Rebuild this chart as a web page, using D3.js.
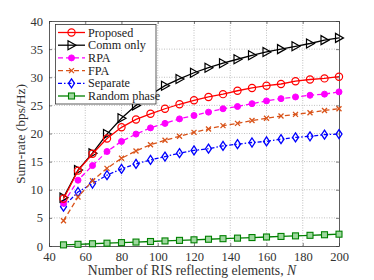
<!DOCTYPE html>
<html>
<head>
<script type="text/javascript" src="https://d3js.org/d3.v7.min.js"></script>
<style>
  body { margin: 0; background: #fff; }
  text { font-family: "Liberation Serif", "DejaVu Serif", serif; }
</style>
</head>
<body>
<svg width="374" height="280"></svg>
<script type="text/javascript">
// number of RIS elements
var N = [48, 56, 64, 72, 80, 88, 96, 104, 112, 120, 128, 136, 144, 152, 160, 168, 176, 184, 192, 200];

var proposed = [8.4, 13.4, 16.4, 19.1, 21.1, 22.5, 23.5, 24.4, 25.2, 25.9, 26.5, 27.0, 27.6, 28.1, 28.5, 28.8, 29.3, 29.6, 29.8, 30.1];
var commOnly = [8.6, 13.5, 16.5, 19.9, 22.7, 25.0, 26.9, 28.5, 29.7, 30.8, 31.7, 32.5, 33.2, 33.9, 34.5, 35.0, 35.5, 36.0, 36.6, 37.0];
var rpa      = [7.6, 11.7, 14.3, 16.8, 18.6, 19.9, 21.0, 21.8, 22.6, 23.2, 23.8, 24.4, 24.8, 25.3, 25.8, 26.2, 26.5, 26.8, 27.0, 27.4];
var fpa      = [4.5, 8.7, 11.6, 13.8, 15.6, 16.9, 18.0, 18.8, 19.5, 20.2, 20.8, 21.4, 21.8, 22.3, 22.7, 23.1, 23.4, 23.7, 24.1, 24.4];
var separate = [7.0, 9.6, 11.1, 12.6, 13.7, 14.6, 15.3, 15.9, 16.5, 17.0, 17.3, 17.8, 18.1, 18.4, 18.6, 19.0, 19.3, 19.5, 19.8, 19.9];
var randomPh = [0.2, 0.3, 0.4, 0.5, 0.6, 0.7, 0.8, 0.9, 1.0, 1.1, 1.2, 1.3, 1.4, 1.5, 1.6, 1.7, 1.8, 1.9, 2.0, 2.1];

var xTicks = [40, 60, 80, 100, 120, 140, 160, 180, 200];
var yTicks = [0, 5, 10, 15, 20, 25, 30, 35, 40];

var series = [
  {name: "Proposed", vals: proposed, color: "#ff0000", dash: null, mark: "circle"},
  {name: "Comm only", vals: commOnly, color: "#000000", dash: null, mark: "triangle"},
  {name: "RPA", vals: rpa, color: "#ff00ff", dash: "5,3", mark: "dot"},
  {name: "FPA", vals: fpa, color: "#d95319", dash: "5,3", mark: "cross"},
  {name: "Separate", vals: separate, color: "#0000ff", dash: "4,2,1.5,2", mark: "diamond"},
  {name: "Random phase", vals: randomPh, color: "#008000", dash: null, mark: "square"}
];

var svg = d3.select("svg");
var x = d3.scaleLinear().domain([40, 200]).range([49, 339]);
var y = d3.scaleLinear().domain([0, 40]).range([246, 21]);

// grid
var grid = svg.append("g");
grid.selectAll("line.gx").data(xTicks.slice(1, -1)).enter().append("line")
  .attr("x1", function(d) { return x(d); }).attr("x2", function(d) { return x(d); })
  .attr("y1", y(0)).attr("y2", y(40))
  .style("stroke", "#b0b0b0").style("stroke-width", 0.8).style("stroke-dasharray", "1,1.5");
grid.selectAll("line.gy").data(yTicks.slice(1, -1)).enter().append("line")
  .attr("y1", function(d) { return y(d); }).attr("y2", function(d) { return y(d); })
  .attr("x1", x(40)).attr("x2", x(200))
  .style("stroke", "#b0b0b0").style("stroke-width", 0.8).style("stroke-dasharray", "1,1.5");

// axes
var xAxis = svg.append("g").attr("transform", "translate(0," + y(0) + ")")
  .call(d3.axisBottom(x).tickValues(xTicks).tickSizeInner(-3).tickSizeOuter(0).tickPadding(6));
var yAxis = svg.append("g").attr("transform", "translate(" + x(40) + ",0)")
  .call(d3.axisLeft(y).tickValues(yTicks).tickSizeInner(-3).tickSizeOuter(0).tickPadding(6));
var xTop = svg.append("g").attr("transform", "translate(0," + y(40) + ")")
  .call(d3.axisTop(x).tickValues(xTicks).tickSizeInner(-3).tickSizeOuter(0).tickFormat(""));
var yRight = svg.append("g").attr("transform", "translate(" + x(200) + ",0)")
  .call(d3.axisRight(y).tickValues(yTicks).tickSizeInner(-3).tickSizeOuter(0).tickFormat(""));
[xAxis, yAxis, xTop, yRight].forEach(function(a) {
  a.selectAll("path").style("stroke", "#333").style("stroke-width", 0.8);
  a.selectAll("line").style("stroke", "#333").style("stroke-width", 0.6);
  a.selectAll("text").style("font-family", "Liberation Serif, serif").style("font-size", "12.5px").style("fill", "#333");
});

svg.append("text").attr("x", 192).attr("y", 275).attr("text-anchor", "middle")
  .style("font-size", "13.7px").style("fill", "#333")
  .html("Number of RIS reflecting elements, <tspan font-style='italic'>N</tspan>");
svg.append("text").attr("transform", "translate(25,134) rotate(-90)").attr("text-anchor", "middle")
  .style("font-size", "13.5px").style("fill", "#333").text("Sum-rate (bps/Hz)");

function drawMark(g, type, color, cx, cy) {
  if (type == "circle") {
    g.append("circle").attr("cx", cx).attr("cy", cy).attr("r", 3.6)
      .style("fill", "none").style("stroke", color).style("stroke-width", 1.2);
  } else if (type == "triangle") {
    g.append("path").attr("d", "M" + (cx - 3.5) + "," + (cy - 4.5) + "L" + (cx + 4.5) + "," + cy + "L" + (cx - 3.5) + "," + (cy + 4.5) + "Z")
      .style("fill", "none").style("stroke", color).style("stroke-width", 1.2);
  } else if (type == "dot") {
    g.append("circle").attr("cx", cx).attr("cy", cy).attr("r", 3)
      .style("fill", color).style("stroke", color);
  } else if (type == "cross") {
    g.append("path").attr("d", "M" + (cx - 2.5) + "," + (cy - 2.5) + "L" + (cx + 2.5) + "," + (cy + 2.5) + "M" + (cx - 2.5) + "," + (cy + 2.5) + "L" + (cx + 2.5) + "," + (cy - 2.5))
      .style("fill", "none").style("stroke", color).style("stroke-width", 1.3);
  } else if (type == "diamond") {
    g.append("path").attr("d", "M" + cx + "," + (cy - 4.5) + "L" + (cx + 3) + "," + cy + "L" + cx + "," + (cy + 4.5) + "L" + (cx - 3) + "," + cy + "Z")
      .style("fill", "none").style("stroke", color).style("stroke-width", 1.3);
  } else if (type == "square") {
    g.append("rect").attr("x", cx - 3).attr("y", cy - 3).attr("width", 6).attr("height", 6)
      .style("fill", "#9fd89f").style("stroke", color).style("stroke-width", 1.1);
  }
}

var line = d3.line().x(function(d) { return x(d[0]); }).y(function(d) { return y(d[1]); });

// draw bottom series first so black/red stay on top
series.slice().reverse().forEach(function(s) {
  var g = svg.append("g");
  var pts = N.map(function(n, i) { return [n, s.vals[i]]; });
  g.append("path").datum(pts).attr("d", line)
    .style("fill", "none").style("stroke", s.color).style("stroke-width", 1.3)
    .style("stroke-dasharray", s.dash);
  pts.forEach(function(p) { drawMark(g, s.mark, s.color, x(p[0]), y(p[1])); });
});

// legend
var lg = svg.append("g");
lg.append("rect").attr("x", 55.5).attr("y", 24.5).attr("width", 100.5).attr("height", 79.5)
  .style("fill", "#fff").style("stroke", "#333").style("stroke-width", 0.8);
series.forEach(function(s, i) {
  var yy = 32.5 + i * 12.7;
  lg.append("line").attr("x1", 58).attr("x2", 85).attr("y1", yy).attr("y2", yy)
    .style("stroke", s.color).style("stroke-width", 1.3).style("stroke-dasharray", s.dash);
  drawMark(lg, s.mark, s.color, 71.5, yy);
  lg.append("text").attr("x", 88).attr("y", yy + 4).style("font-size", "12.2px").style("fill", "#222").text(s.name);
});
</script>
</body>
</html>
